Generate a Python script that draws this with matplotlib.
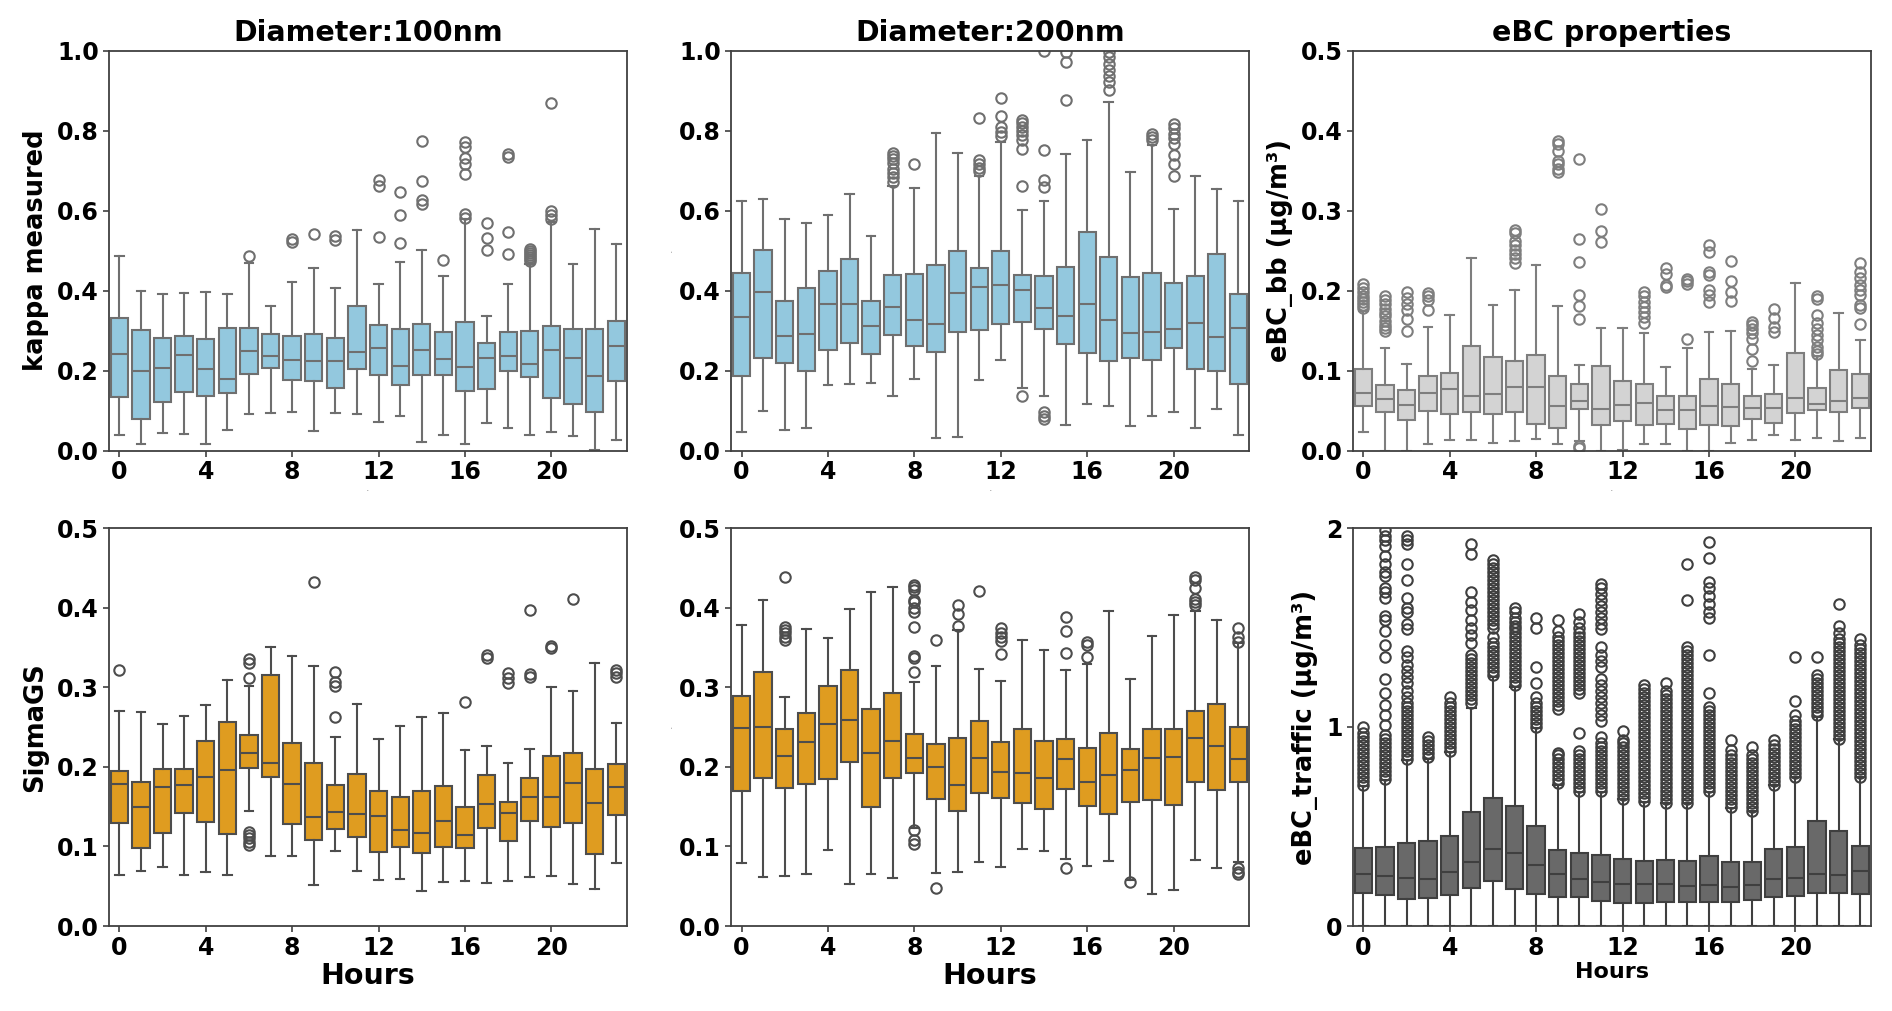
import matplotlib
matplotlib.use("Agg")
import matplotlib.pyplot as plt
from matplotlib.ticker import FormatStrFormatter

hours = list(range(24))
xtick_hours = [0, 4, 8, 12, 16, 20]

# ---------------- Panel 1: kappa, 100 nm ----------------
k100_lo  = [0.039,0.016,0.044,0.041,0.017,0.051,0.091,0.094,0.096,0.049,0.094,0.091,0.072,0.086,0.021,0.039,0.018,0.069,0.056,0.039,0.047,0.037,0.002,0.028]
k100_q1  = [0.135,0.079,0.123,0.148,0.137,0.145,0.192,0.206,0.178,0.174,0.158,0.204,0.189,0.165,0.190,0.190,0.149,0.155,0.200,0.184,0.132,0.116,0.096,0.174]
k100_med = [0.243,0.200,0.207,0.239,0.205,0.180,0.249,0.238,0.228,0.225,0.225,0.247,0.258,0.211,0.252,0.229,0.210,0.232,0.237,0.216,0.253,0.231,0.186,0.263]
k100_q3  = [0.333,0.302,0.283,0.286,0.280,0.307,0.307,0.291,0.286,0.291,0.283,0.363,0.315,0.304,0.317,0.298,0.321,0.269,0.298,0.300,0.312,0.304,0.304,0.325]
k100_hi  = [0.488,0.400,0.392,0.395,0.397,0.392,0.470,0.362,0.423,0.456,0.406,0.552,0.417,0.473,0.501,0.438,0.580,0.336,0.417,0.468,0.573,0.467,0.554,0.518]
k100_out = [[],[],[],[],[],[],[0.486],[],[0.522,0.530],[0.542],[0.526,0.536],[],
            [0.534,0.663,0.676],[0.520,0.590,0.648],[0.616,0.626,0.674,0.775],[0.477],
            [0.582,0.592,0.693,0.718,0.732,0.760,0.772],[0.503,0.532,0.569],
            [0.491,0.546,0.734,0.741],[0.475,0.480,0.485,0.490,0.495,0.500,0.505],
            [0.580,0.590,0.600,0.870],[],[],[]]

# ---------------- Panel 2: kappa, 200 nm ----------------
k200_lo  = [0.048,0.100,0.053,0.056,0.164,0.168,0.169,0.138,0.180,0.032,0.034,0.177,0.226,0.157,0.137,0.065,0.116,0.111,0.061,0.086,0.096,0.057,0.104,0.039]
k200_q1  = [0.186,0.232,0.220,0.199,0.252,0.270,0.241,0.290,0.263,0.247,0.298,0.303,0.316,0.322,0.305,0.267,0.245,0.224,0.232,0.227,0.258,0.205,0.199,0.168]
k200_med = [0.334,0.398,0.287,0.293,0.367,0.367,0.313,0.360,0.326,0.318,0.395,0.410,0.415,0.402,0.356,0.337,0.366,0.326,0.295,0.296,0.304,0.319,0.285,0.308]
k200_q3  = [0.444,0.502,0.375,0.408,0.449,0.480,0.375,0.440,0.443,0.465,0.500,0.458,0.500,0.439,0.437,0.460,0.546,0.485,0.434,0.444,0.419,0.438,0.492,0.393]
k200_hi  = [0.624,0.630,0.579,0.569,0.589,0.642,0.538,0.662,0.657,0.794,0.745,0.688,0.773,0.602,0.624,0.741,0.777,0.872,0.698,0.764,0.605,0.687,0.654,0.624]
k200_out = [[],[],[],[],[],[],[],
            [0.672,0.685,0.695,0.705,0.720,0.730,0.737,0.745],[0.717],[],[],
            [0.700,0.708,0.716,0.726,0.833],[0.788,0.798,0.809,0.836,0.882],
            [0.138,0.661,0.755,0.776,0.790,0.800,0.810,0.820,0.828],
            [0.080,0.088,0.096,0.659,0.676,0.753,1.0],[0.877,0.973,0.998],[],
            [0.902,0.921,0.936,0.952,0.968,0.985,0.997],[],[0.777,0.785,0.793],
            [0.687,0.718,0.739,0.768,0.781,0.793,0.806,0.818],[],[],[]]

# ---------------- Panel 3: eBC_bb ----------------
bb_lo  = [0.023,0.0,0.0,0.009,0.014,0.014,0.0096,0.0117,0.0147,0.008,0.012,0.0,0.001,0.008,0.009,0.0,0.0,0.0096,0.013,0.0197,0.014,0.016,0.012,0.0155]
bb_q1  = [0.0553,0.048,0.0385,0.050,0.0457,0.049,0.046,0.049,0.033,0.0289,0.0524,0.0327,0.0373,0.032,0.033,0.027,0.0327,0.031,0.040,0.035,0.0473,0.0507,0.0478,0.054]
bb_med = [0.0725,0.065,0.0566,0.072,0.0775,0.069,0.0704,0.080,0.080,0.0557,0.0624,0.0524,0.0566,0.060,0.051,0.0515,0.0557,0.0545,0.0536,0.0536,0.0658,0.058,0.0616,0.0658]
bb_q3  = [0.1026,0.0825,0.0758,0.094,0.0976,0.1315,0.117,0.1127,0.1194,0.0934,0.083,0.1064,0.087,0.0834,0.068,0.069,0.0897,0.0838,0.0687,0.0708,0.1227,0.0788,0.101,0.096]
bb_hi  = [0.175,0.129,0.1085,0.155,0.170,0.241,0.182,0.201,0.2325,0.181,0.1077,0.153,0.153,0.1466,0.1047,0.1286,0.1487,0.1496,0.102,0.1077,0.2095,0.119,0.1726,0.138]
bb_out = [[0.178,0.182,0.186,0.190,0.194,0.198,0.203,0.209],
          [0.150,0.153,0.157,0.162,0.168,0.172,0.177,0.183,0.188,0.193],
          [0.1496,0.165,0.176,0.184,0.191,0.198],
          [0.176,0.1885,0.193,0.197],[],[],[],
          [0.2346,0.241,0.246,0.251,0.257,0.262,0.272,0.276],[],
          [0.348,0.352,0.358,0.362,0.375,0.383,0.3875],
          [0.004,0.006,0.1646,0.181,0.195,0.2354,0.265,0.3645],
          [0.2606,0.2744,0.3025],[],
          [0.160,0.1676,0.174,0.180,0.186,0.193,0.199],
          [0.205,0.207,0.221,0.228],[0.140,0.208,0.2116,0.215],
          [0.1864,0.195,0.201,0.220,0.224,0.249,0.2576],
          [0.187,0.199,0.2116,0.2375],
          [0.112,0.127,0.140,0.1466,0.152,0.157,0.161],
          [0.148,0.155,0.1655,0.177],[],
          [0.121,0.125,0.130,0.138,0.145,0.152,0.160,0.170,0.190,0.194],[],
          [0.159,0.178,0.182,0.195,0.201,0.207,0.2157,0.224,0.2346]]

# ---------------- Panel 4: SigmaGS, 100 nm ----------------
s100_lo  = [0.064,0.0687,0.074,0.064,0.068,0.064,0.145,0.088,0.088,0.052,0.094,0.0695,0.058,0.0595,0.044,0.0557,0.057,0.0545,0.056,0.062,0.0628,0.0528,0.0465,0.0796]
s100_q1  = [0.130,0.098,0.117,0.1416,0.1307,0.115,0.198,0.1876,0.128,0.108,0.1215,0.112,0.0926,0.0997,0.0913,0.099,0.0976,0.1236,0.107,0.1315,0.125,0.130,0.0909,0.139]
s100_med = [0.178,0.150,0.175,0.177,0.187,0.196,0.217,0.205,0.178,0.137,0.1437,0.141,0.1386,0.121,0.1164,0.132,0.1143,0.153,0.1416,0.1625,0.1625,0.1797,0.155,0.1742]
s100_q3  = [0.1943,0.1805,0.197,0.1969,0.233,0.2568,0.240,0.3154,0.2295,0.205,0.177,0.1906,0.169,0.162,0.169,0.176,0.150,0.190,0.156,0.1856,0.213,0.2174,0.1977,0.2036]
s100_hi  = [0.270,0.2685,0.254,0.2635,0.278,0.309,0.302,0.351,0.339,0.327,0.238,0.279,0.235,0.251,0.262,0.268,0.221,0.226,0.2048,0.2228,0.300,0.2953,0.330,0.2547]
s100_out = [[0.321],[],[],[],[],[],
            [0.102,0.106,0.110,0.114,0.1185,0.311,0.331,0.335],[],[],[0.432],
            [0.263,0.302,0.307,0.3196],[],[],[],[],[],[0.281],[0.3363,0.3405],
            [0.3058,0.311,0.3175],[0.3133,0.316,0.397],[0.349,0.352],[0.4105],[],
            [0.3125,0.3175,0.3217]]

# ---------------- Panel 5: SigmaGS, 200 nm ----------------
s200_lo  = [0.0796,0.061,0.0628,0.065,0.0955,0.0524,0.065,0.060,0.1227,0.066,0.068,0.081,0.074,0.0963,0.0938,0.0838,0.0754,0.0817,0.0578,0.040,0.0457,0.083,0.0725,0.080]
s200_q1  = [0.1696,0.1856,0.1738,0.178,0.1843,0.2057,0.149,0.1856,0.1927,0.159,0.1445,0.1667,0.1604,0.154,0.1466,0.172,0.1508,0.1403,0.1558,0.1583,0.1516,0.1805,0.1713,0.1814]
s200_med = [0.249,0.2505,0.213,0.2316,0.2542,0.2584,0.2178,0.2329,0.2107,0.200,0.177,0.2107,0.1935,0.1927,0.1856,0.2103,0.1805,0.1897,0.1964,0.2115,0.2124,0.2358,0.2266,0.2098]
s200_q3  = [0.2894,0.3196,0.2475,0.268,0.302,0.3213,0.2723,0.2924,0.2413,0.229,0.2358,0.2576,0.2316,0.248,0.2325,0.2354,0.2237,0.243,0.222,0.2475,0.247,0.2697,0.279,0.2496]
s200_hi  = [0.3786,0.410,0.288,0.3736,0.3615,0.3987,0.419,0.4264,0.307,0.3267,0.372,0.3225,0.308,0.3594,0.3468,0.3213,0.3292,0.3958,0.3108,0.3648,0.3908,0.3962,0.3841,0.3552]
s200_out = [[],[],[0.3594,0.3636,0.368,0.372,0.376,0.439],[],[],[],[],[],
            [0.103,0.108,0.1206,0.3196,0.337,0.3388,0.376,0.395,0.399,0.4075,0.410,0.422,0.426,0.4285],
            [0.0473,0.3594],[0.377,0.392,0.403],[0.4214],
            [0.3418,0.3585,0.3636,0.368,0.374],[],[],
            [0.0733,0.3426,0.3707,0.388],[0.3384,0.353,0.3573],[],[0.0553],[],[],
            [0.4033,0.4075,0.4105,0.4243,0.4348,0.439],[],
            [0.0653,0.068,0.0725,0.3573,0.3627,0.375]]

# ---------------- Panel 6: eBC_traffic ----------------
tr_lo  = [0.0]*24
tr_q1  = [0.164,0.157,0.136,0.142,0.156,0.1926,0.226,0.184,0.159,0.1457,0.144,0.1256,0.117,0.114,0.1206,0.1206,0.122,0.122,0.132,0.1457,0.152,0.164,0.164,0.161]
tr_med = [0.261,0.250,0.2395,0.2345,0.270,0.320,0.387,0.3685,0.305,0.260,0.238,0.221,0.2127,0.209,0.2127,0.199,0.206,0.194,0.206,0.2345,0.243,0.2596,0.2546,0.276]
tr_q3  = [0.390,0.397,0.417,0.429,0.452,0.5745,0.645,0.603,0.504,0.382,0.3685,0.357,0.338,0.328,0.330,0.328,0.353,0.3216,0.320,0.385,0.3987,0.5276,0.4757,0.402]
tr_hi  = [0.7035,0.734,0.834,0.8375,0.876,1.094,1.253,1.203,0.993,0.7085,0.675,0.675,0.6365,0.625,0.6164,0.620,0.675,0.591,0.5796,0.7085,0.747,1.052,0.938,0.750]
tr_out = [
    [0.71,0.73,0.75,0.77,0.79,0.81,0.83,0.85,0.87,0.89,0.91,0.93,0.95,0.97,1.00],
    [0.74,0.76,0.78,0.80,0.82,0.84,0.86,0.88,0.90,0.92,0.94,0.96,1.01,1.06,1.11,1.17,1.24,1.35,1.41,1.48,1.54,1.56,1.65,1.68,1.70,1.76,1.78,1.82,1.86,1.91,1.94,1.96,1.99],
    [0.84,0.86,0.88,0.90,0.92,0.94,0.96,0.98,1.00,1.02,1.04,1.06,1.08,1.10,1.12,1.15,1.18,1.22,1.25,1.28,1.31,1.35,1.38,1.49,1.52,1.58,1.60,1.65,1.74,1.82,1.92,1.94,1.96],
    [0.85,0.87,0.89,0.91,0.93,0.95],
    [0.88,0.90,0.92,0.94,0.96,0.98,1.00,1.02,1.04,1.06,1.08,1.10,1.12,1.15],
    [1.12,1.14,1.16,1.18,1.20,1.22,1.24,1.26,1.28,1.30,1.32,1.34,1.36,1.42,1.46,1.50,1.54,1.59,1.63,1.68,1.87,1.92],
    [1.26,1.28,1.30,1.32,1.34,1.36,1.38,1.40,1.42,1.45,1.50,1.52,1.54,1.56,1.58,1.60,1.62,1.64,1.66,1.68,1.70,1.72,1.74,1.76,1.78,1.80,1.82,1.84],
    [1.21,1.23,1.25,1.27,1.29,1.31,1.33,1.35,1.37,1.39,1.41,1.43,1.45,1.47,1.49,1.51,1.53,1.55,1.58,1.60],
    [1.00,1.02,1.04,1.06,1.08,1.10,1.12,1.15,1.22,1.30,1.50,1.55],
    [0.72,0.74,0.76,0.78,0.80,0.82,0.84,0.86,0.87,1.09,1.11,1.13,1.15,1.17,1.19,1.21,1.23,1.25,1.27,1.29,1.31,1.33,1.35,1.37,1.39,1.41,1.43,1.45,1.48,1.54],
    [0.68,0.70,0.72,0.74,0.76,0.78,0.80,0.82,0.84,0.86,0.88,0.97,1.17,1.19,1.21,1.23,1.25,1.27,1.29,1.31,1.33,1.35,1.37,1.39,1.41,1.43,1.45,1.47,1.50,1.53,1.57],
    [0.68,0.70,0.72,0.74,0.76,0.78,0.80,0.82,0.84,0.86,0.88,0.90,0.92,0.95,1.03,1.06,1.09,1.12,1.15,1.18,1.21,1.24,1.30,1.33,1.36,1.40,1.49,1.52,1.55,1.58,1.61,1.64,1.67,1.70,1.72],
    [0.64,0.66,0.68,0.70,0.72,0.74,0.76,0.78,0.80,0.82,0.84,0.86,0.88,0.90,0.92,0.935,0.98],
    [0.63,0.65,0.67,0.69,0.71,0.73,0.75,0.77,0.79,0.81,0.83,0.85,0.87,0.89,0.91,0.93,0.95,0.97,0.99,1.01,1.03,1.05,1.07,1.09,1.11,1.13,1.15,1.17,1.19,1.21],
    [0.62,0.64,0.66,0.68,0.70,0.72,0.74,0.76,0.78,0.80,0.82,0.84,0.86,0.88,0.90,0.92,0.94,0.96,0.98,1.00,1.02,1.04,1.06,1.08,1.10,1.12,1.14,1.16,1.18,1.22],
    [0.62,0.64,0.66,0.68,0.70,0.72,0.74,0.76,0.78,0.80,0.82,0.84,0.86,0.88,0.90,0.92,0.94,0.96,0.98,1.00,1.02,1.04,1.06,1.08,1.10,1.12,1.14,1.16,1.18,1.20,1.22,1.24,1.26,1.28,1.30,1.32,1.34,1.36,1.38,1.40,1.64,1.82],
    [0.68,0.70,0.72,0.74,0.76,0.78,0.80,0.82,0.84,0.86,0.88,0.90,0.92,0.94,0.96,0.98,1.00,1.02,1.04,1.06,1.08,1.10,1.17,1.36,1.55,1.58,1.62,1.66,1.70,1.73,1.85,1.93],
    [0.60,0.62,0.64,0.66,0.68,0.70,0.72,0.74,0.76,0.78,0.80,0.82,0.84,0.86,0.885,0.935],
    [0.58,0.60,0.62,0.64,0.66,0.68,0.70,0.72,0.74,0.76,0.78,0.80,0.82,0.84,0.86,0.90],
    [0.71,0.73,0.75,0.77,0.79,0.81,0.83,0.85,0.87,0.89,0.91,0.935],
    [0.75,0.77,0.79,0.81,0.83,0.85,0.87,0.89,0.91,0.93,0.95,0.97,0.99,1.01,1.03,1.06,1.13,1.35],
    [1.06,1.08,1.10,1.12,1.14,1.16,1.18,1.20,1.22,1.24,1.26,1.35],
    [0.94,0.96,0.98,1.00,1.02,1.04,1.06,1.08,1.10,1.12,1.14,1.16,1.18,1.20,1.22,1.24,1.26,1.28,1.30,1.32,1.34,1.36,1.38,1.40,1.42,1.44,1.47,1.51,1.62],
    [0.75,0.77,0.79,0.81,0.83,0.85,0.87,0.89,0.91,0.93,0.95,0.97,0.99,1.01,1.03,1.05,1.07,1.09,1.11,1.13,1.15,1.17,1.19,1.21,1.23,1.25,1.27,1.29,1.31,1.33,1.35,1.37,1.39,1.41,1.44],
]

panels = [
    dict(lo=k100_lo, q1=k100_q1, med=k100_med, q3=k100_q3, hi=k100_hi, out=k100_out,
         face='#93C8DE', edge='#6F6F6F', ylim=(0, 1.0), yticks=[0, 0.2, 0.4, 0.6, 0.8, 1.0], fmt='%.1f',
         title='Diameter:100nm', ylabel='kappa measured', xlabel='.'),
    dict(lo=k200_lo, q1=k200_q1, med=k200_med, q3=k200_q3, hi=k200_hi, out=k200_out,
         face='#93C8DE', edge='#6F6F6F', ylim=(0, 1.0), yticks=[0, 0.2, 0.4, 0.6, 0.8, 1.0], fmt='%.1f',
         title='Diameter:200nm', ylabel='.', xlabel='.'),
    dict(lo=bb_lo, q1=bb_q1, med=bb_med, q3=bb_q3, hi=bb_hi, out=bb_out,
         face='#D3D3D3', edge='#7E7E7E', ylim=(0, 0.5), yticks=[0, 0.1, 0.2, 0.3, 0.4, 0.5], fmt='%.1f',
         title='eBC properties', ylabel='eBC_bb (μg/m³)', xlabel='.'),
    dict(lo=s100_lo, q1=s100_q1, med=s100_med, q3=s100_q3, hi=s100_hi, out=s100_out,
         face='#DF9C20', edge='#4D4D4D', ylim=(0, 0.5), yticks=[0, 0.1, 0.2, 0.3, 0.4, 0.5], fmt='%.1f',
         title=None, ylabel='SigmaGS', xlabel='Hours'),
    dict(lo=s200_lo, q1=s200_q1, med=s200_med, q3=s200_q3, hi=s200_hi, out=s200_out,
         face='#DF9C20', edge='#4D4D4D', ylim=(0, 0.5), yticks=[0, 0.1, 0.2, 0.3, 0.4, 0.5], fmt='%.1f',
         title=None, ylabel='.', xlabel='Hours'),
    dict(lo=tr_lo, q1=tr_q1, med=tr_med, q3=tr_q3, hi=tr_hi, out=tr_out,
         face='#696969', edge='#3F3F3F', ylim=(0, 2.0), yticks=[0, 1, 2], fmt='%d',
         title=None, ylabel='eBC_traffic (μg/m³)', xlabel='Hours'),
]

W, H = 1892, 1011
fig = plt.figure(figsize=(W / 100, H / 100), dpi=100)
fig.patch.set_facecolor('white')

col_left = [108.5, 730.7, 1352.5]
col_w = 518.5
row_top = [50.7, 528.0]
row_h = [400.0, 398.0]

for i, p in enumerate(panels):
    r, c = divmod(i, 3)
    ax = fig.add_axes([col_left[c] / W, 1 - (row_top[r] + row_h[r]) / H, col_w / W, row_h[r] / H])
    stats = []
    for h in hours:
        stats.append(dict(whislo=p['lo'][h], q1=p['q1'][h], med=p['med'][h], q3=p['q3'][h],
                          whishi=p['hi'][h], fliers=p['out'][h], label=str(h)))
    e = p['edge']
    ax.bxp(stats, positions=hours, widths=0.8, capwidths=0.4, patch_artist=True,
           boxprops=dict(facecolor=p['face'], edgecolor=e, linewidth=1.5),
           medianprops=dict(color=e, linewidth=1.5),
           whiskerprops=dict(color=e, linewidth=1.5),
           capprops=dict(color=e, linewidth=1.5),
           flierprops=dict(marker='o', markerfacecolor='none', markeredgecolor=e,
                           markersize=7.5, markeredgewidth=1.5, linestyle='none'),
           manage_ticks=False)
    ax.set_xlim(-0.5, 23.5)
    ax.set_ylim(*p['ylim'])
    ax.set_xticks(xtick_hours)
    ax.set_xticklabels([str(h) for h in xtick_hours])
    ax.set_yticks(p['yticks'])
    ax.yaxis.set_major_formatter(FormatStrFormatter(p['fmt']))
    for lab in ax.get_xticklabels() + ax.get_yticklabels():
        lab.set_fontweight('bold')
        lab.set_fontsize(17)
    ax.tick_params(length=4, width=1.2, color='#404040', pad=3)
    for s in ax.spines.values():
        s.set_color('#404040')
        s.set_linewidth(1.3)
    if p['title']:
        ax.set_title(p['title'], fontsize=20.5, fontweight='bold', pad=7)
    if p['ylabel'] == '.':
        ax.set_ylabel('.', fontsize=4)
    else:
        ax.set_ylabel(p['ylabel'], fontsize=18.5, fontweight='bold', labelpad=6)
    if p['xlabel'] == '.':
        ax.set_xlabel('.', fontsize=4, labelpad=2)
    else:
        ax.set_xlabel(p['xlabel'], fontsize=16 if i == 5 else 20.5, fontweight='bold', labelpad=2)

fig.savefig('out.png', dpi=100, facecolor='white')
